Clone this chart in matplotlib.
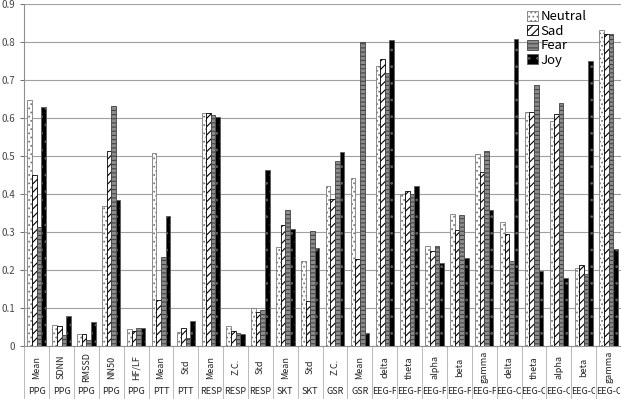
import matplotlib
matplotlib.use("Agg")
import matplotlib.pyplot as plt
import matplotlib.transforms as mtransforms
from matplotlib.patches import Rectangle
import numpy as np

plt.rcParams["font.family"] = ["Noto Sans CJK KR", "DejaVu Sans"]
plt.rcParams["hatch.linewidth"] = 0.8

features = ["Mean", "SDNN", "RMSSD", "NN50", "HF/LF", "Mean", "Std",
            "Mean", "Z.C.", "Std", "Mean", "Std", "Z.C.", "Mean",
            "delta", "theta", "alpha", "beta", "gamma",
            "delta", "theta", "alpha", "beta", "gamma"]
signals = ["PPG"] * 5 + ["PTT"] * 2 + ["RESP"] * 3 + ["SKT"] * 2 + ["GSR"] * 2 \
    + ["EEG-F"] * 5 + ["EEG-C"] * 5

neutral = [0.648, 0.054, 0.031, 0.369, 0.045, 0.508, 0.037, 0.612, 0.052, 0.101,
           0.261, 0.224, 0.421, 0.443, 0.736, 0.401, 0.264, 0.346, 0.506,
           0.326, 0.615, 0.592, 0.206, 0.831]
sad = [0.450, 0.052, 0.032, 0.513, 0.038, 0.120, 0.048, 0.612, 0.040, 0.088,
       0.319, 0.117, 0.388, 0.229, 0.756, 0.409, 0.250, 0.305, 0.457,
       0.294, 0.617, 0.610, 0.214, 0.822]
fear = [0.314, 0.030, 0.015, 0.632, 0.048, 0.234, 0.021, 0.607, 0.035, 0.095,
        0.357, 0.303, 0.488, 0.800, 0.718, 0.400, 0.264, 0.345, 0.512,
        0.224, 0.686, 0.640, 0.190, 0.820]
joy = [0.628, 0.080, 0.064, 0.384, 0.048, 0.342, 0.065, 0.603, 0.032, 0.463,
       0.308, 0.258, 0.511, 0.034, 0.805, 0.421, 0.219, 0.231, 0.358,
       0.809, 0.197, 0.180, 0.749, 0.255]

fig = plt.figure(figsize=(6.21, 3.99), dpi=100)
ax = fig.add_axes([0.039, 0.133, 0.961, 0.857])

x = np.arange(len(features)) + 0.5
w = 0.185
styles = [
    ("Neutral", neutral, dict(facecolor="white", edgecolor="#7a7a7a", hatch="....")),
    ("Sad", sad, dict(facecolor="white", edgecolor="black", hatch="////")),
    ("Fear", fear, dict(facecolor="#8c8c8c", edgecolor="#444444", hatch="----")),
    ("Joy", joy, dict(facecolor="black", edgecolor="#5a5a5a", hatch="..")),
]
for k, (name, vals, st) in enumerate(styles):
    ax.bar(x + (k - 1.5) * w, vals, w, label=name, linewidth=0.6, zorder=3, **st)

ax.set_xlim(0, len(features))
ax.set_ylim(0, 0.9)
ax.set_yticks(np.arange(0, 0.91, 0.1))
ax.set_yticklabels(["0"] + ["%.1f" % v for v in np.arange(0.1, 0.91, 0.1)])
ax.tick_params(axis="y", labelsize=7, colors="#555555", length=3, width=0.6,
               labelcolor="#444444")
ax.set_xticks([])
ax.grid(True, axis="y", color="#a0a0a0", linewidth=0.8, zorder=0)
for s in ["top", "right"]:
    ax.spines[s].set_visible(False)
ax.spines["left"].set_color("#909090")
ax.spines["bottom"].set_color("#909090")

# category table under the axis
trans = mtransforms.blended_transform_factory(ax.transData, ax.transAxes)
for i in range(len(features) + 1):
    ax.plot([i, i], [0, -0.16], transform=trans, color="#b0b0b0",
            linewidth=0.6, clip_on=False)
for i, (f, s) in enumerate(zip(features, signals)):
    ax.text(i + 0.5, -0.062, f, transform=trans, rotation=90, ha="center",
            va="center", fontsize=6.5, color="#222222")
    t = ax.text(i + 0.5, -0.134, s, transform=trans, ha="center", va="center",
                fontsize=6.5, color="#222222", clip_on=True)
    t.set_clip_path(Rectangle((i + 0.04, -0.2), 0.92, 0.2, transform=trans))

ax.legend(loc="upper right", bbox_to_anchor=(0.955, 1.005), frameon=False,
          fontsize=9.5, handlelength=0.8, handleheight=0.8, handletextpad=0.2,
          labelspacing=0.12, borderaxespad=0.2)

fig.savefig("out.png", dpi=100)
